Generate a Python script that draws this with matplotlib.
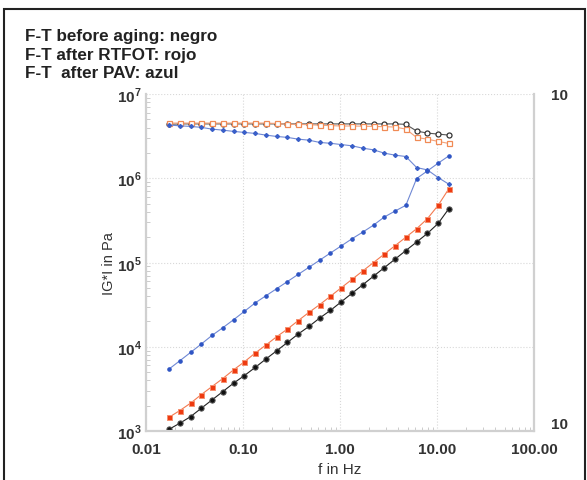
import matplotlib
matplotlib.use('Agg')
import matplotlib.pyplot as plt
from matplotlib.patches import Rectangle

plt.rcParams['font.family'] = ['Liberation Sans', 'DejaVu Sans']
plt.rcParams['mathtext.fontset'] = 'custom'
plt.rcParams['mathtext.rm'] = 'Liberation Sans:bold'
plt.rcParams['mathtext.bf'] = 'Liberation Sans:bold'

# frequencies (Hz)
freq = [0.01726, 0.02228, 0.02877, 0.03715, 0.04797, 0.06194, 0.07998, 0.1033,
        0.1334, 0.1722, 0.2223, 0.2871, 0.3707, 0.4786, 0.6180, 0.7980, 1.030,
        1.330, 1.718, 2.218, 2.864, 3.698, 4.775, 6.166, 7.962, 10.28, 13.27]

# log10 |G*|
neg_low = [3.020, 3.092, 3.170, 3.270, 3.369, 3.468, 3.568, 3.658, 3.754, 3.854,
           3.952, 4.051, 4.151, 4.241, 4.341, 4.432, 4.533, 4.635, 4.736, 4.838,
           4.939, 5.040, 5.142, 5.243, 5.345, 5.464, 5.640]
neg_up = [6.640, 6.645, 6.645, 6.645, 6.645, 6.645, 6.645, 6.645, 6.645, 6.645,
          6.645, 6.645, 6.645, 6.645, 6.645, 6.645, 6.645, 6.645, 6.645, 6.645,
          6.645, 6.645, 6.640, 6.560, 6.536, 6.524, 6.512]
rojo_low = [3.163, 3.242, 3.330, 3.432, 3.528, 3.623, 3.726, 3.821, 3.925, 4.020,
            4.119, 4.210, 4.310, 4.408, 4.500, 4.600, 4.700, 4.800, 4.900, 5.000,
            5.100, 5.200, 5.300, 5.401, 5.520, 5.679, 5.877]
rojo_up = [6.655, 6.655, 6.655, 6.655, 6.655, 6.655, 6.655, 6.655, 6.655, 6.655,
           6.650, 6.640, 6.640, 6.635, 6.630, 6.625, 6.620, 6.620, 6.618, 6.615,
           6.612, 6.608, 6.583, 6.484, 6.464, 6.437, 6.413]
azul_low = [3.735, 3.833, 3.932, 4.032, 4.135, 4.226, 4.321, 4.420, 4.520, 4.605,
            4.689, 4.774, 4.859, 4.943, 5.028, 5.113, 5.197, 5.282, 5.361, 5.444,
            5.540, 5.611, 5.679, 5.997, 6.087, 6.179, 6.266]
azul_up = [6.631, 6.623, 6.615, 6.604, 6.583, 6.571, 6.556, 6.544, 6.532, 6.512,
           6.496, 6.485, 6.464, 6.452, 6.425, 6.415, 6.400, 6.385, 6.357, 6.337,
           6.298, 6.274, 6.258, 6.127, 6.099, 6.008, 5.929]

xticks = [0.01, 0.1, 1, 10, 100]
xticklabels = ['0.01', '0.10', '1.00', '10.00', '100.00']
yticks = [1e3, 1e4, 1e5, 1e6, 1e7]
yticklabels = [r'$10^3$', r'$10^4$', r'$10^5$', r'$10^6$', r'$10^7$']

fig = plt.figure(figsize=(5.87, 4.81), dpi=100)
ax = fig.add_axes([146 / 587, 1 - 432 / 481, 388 / 587, 337 / 481])

def G(vals):
    return [10 ** v for v in vals]

ax.plot(freq, G(neg_up), '-o', color='#555555', mfc='white', mec='#333333', ms=3.6, mew=0.9, lw=0.8)
ax.plot(freq, G(rojo_up), '-s', color='#f4a27a', mfc='white', mec='#f08a55', ms=3.6, mew=0.9, lw=0.8)
ax.plot(freq, G(azul_up), '-D', color='#6f88d4', mfc='#3a5fc8', mec='#3a5fc8', ms=2.0, lw=0.8)
ax.plot(freq, G(azul_low), '-o', color='#6f88d4', mfc='#2f55c4', mec='#2f55c4', ms=2.3, lw=0.8)
ax.plot(freq, G(rojo_low), '-s', color='#f47a50', mfc='#ee3a10', mec='#f59070', ms=3.6, mew=0.7, lw=0.8)
ax.plot(freq, G(neg_low), '-o', color='#222222', mfc='#111111', mec='#555555', ms=3.8, mew=0.7, lw=0.8)

ax.set_xscale('log')
ax.set_yscale('log')
ax.set_xlim(0.01, 100)
ax.set_ylim(1e3, 1e7)
ax.set_xticks(xticks)
ax.set_xticklabels(xticklabels)
ax.set_yticks(yticks)
ax.set_yticklabels(yticklabels)
ax.grid(True, which='major', linestyle=':', color='#d8d8d8', lw=0.8)
ax.tick_params(which='both', direction='in', color='#c4c4c4', labelsize=11,
               labelcolor='#333333')
ax.tick_params(axis='x', pad=8)
ax.tick_params(axis='y', pad=3)
ax.tick_params(which='major', length=0)
ax.tick_params(which='minor', length=3)
for lab in ax.get_xticklabels():
    lab.set_fontweight('bold')
ax.spines['top'].set_visible(False)
for s in ['left', 'bottom', 'right']:
    ax.spines[s].set_color('#d0d0d0')
    ax.spines[s].set_linewidth(1.6)

ax2 = ax.twinx()
ax2.set_yscale('log')
ax2.set_ylim(1, 10)
ax2.set_yticks([1, 10])
ax2.set_yticklabels(['10', '10'])
ax2.yaxis.set_minor_locator(plt.NullLocator())
ax2.tick_params(length=0, labelsize=11, labelcolor='#333333', pad=12)
labs = ax2.get_yticklabels()
for lab in labs:
    lab.set_fontweight('bold')
labs[0].set_va('bottom')
for s in ax2.spines.values():
    s.set_visible(False)

ax.set_ylabel('IG*I in Pa', fontsize=10.5, color='#333333')
ax.yaxis.set_label_coords(-30 / 388, 0.5)
ax.set_xlabel('f in Hz', fontsize=11, color='#333333', labelpad=4)

fig.text(25 / 587, 1 - 29 / 481, 'F-T before aging: negro', fontsize=12.3, fontweight='bold', va='top', color='#222222')
fig.text(25 / 587, 1 - 48 / 481, 'F-T after RTFOT: rojo', fontsize=12.3, fontweight='bold', va='top', color='#222222')
fig.text(25 / 587, 1 - 66 / 481, 'F-T  after PAV: azul', fontsize=12.3, fontweight='bold', va='top', color='#222222')

fig.patches.append(Rectangle((4 / 587, -0.01), 581 / 587, 471 / 481 + 0.01,
                             transform=fig.transFigure, fill=False,
                             edgecolor='#222222', lw=1.5))

fig.savefig('out.png', dpi=100)
